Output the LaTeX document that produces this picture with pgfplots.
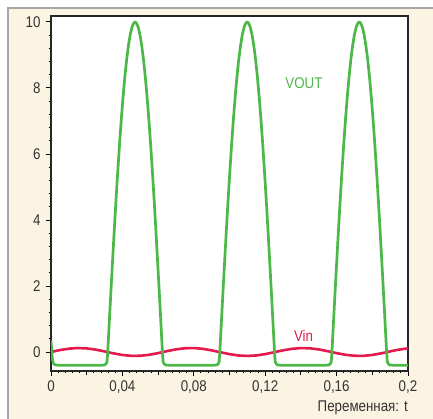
\documentclass[border=0pt]{standalone}
\usepackage{pgfplots}
\pgfplotsset{compat=1.18}
\usepackage{fontspec}
\setmainfont{Liberation Sans}[FakeStretch=0.86]
\definecolor{cream}{HTML}{FCF4E3}
\definecolor{vgreen}{HTML}{4CB848}
\definecolor{vred}{HTML}{E5194B}
\begin{document}
\begin{tikzpicture}[x=1pt,y=1pt]
\path[use as bounding box, fill=white] (0,0) rectangle (433,419);
\fill[cream] (8,0) rectangle (433,411);
\draw[black!35, line width=2.5pt] (8,0) -- (8,411) -- (433,411);
\begin{axis}[at={(51pt,48pt)}, anchor=south west, scale only axis,
  width=357pt, height=355pt,
  xmin=0, xmax=0.2, ymin=-0.576, ymax=10.18,
  axis background/.style={fill=white},
  axis line style={black!85, line width=1.6pt},
  tick pos=left, tick align=outside,
  xtick={0,0.04,0.08,0.12,0.16,0.2},
  xticklabels={0,{0,04},{0,08},{0,12},{0,16},{0,2}},
  ytick={0,2,4,6,8,10},
  minor x tick num=9, minor y tick num=4,
  major tick length=5pt, minor tick length=2.5pt,
  every tick/.style={black, line width=0.9pt},
  extra x ticks={0.02,0.06,0.1,0.14,0.18},
  extra x tick labels={},
  extra x tick style={major tick length=4pt, grid=none},
  ticklabel style={font=\fontsize{15.5}{17}\selectfont, text=black!80},
  yticklabel style={xshift=-2pt},
  xticklabel style={yshift=-1.5pt},
  /pgf/number format/assume math mode=true,
  clip=true,
]
\addplot[vred, line width=2.6pt, line join=round] coordinates {
(0,0) (0.005,0.058) (0.01,0.101) (0.015,0.12) (0.02,0.109) (0.025,0.072)
(0.03,0.017) (0.035,-0.042) (0.04,-0.091) (0.045,-0.117) (0.05,-0.115)
(0.055,-0.085) (0.06,-0.034) (0.065,0.026) (0.07,0.079) (0.075,0.113)
(0.08,0.119) (0.085,0.096) (0.09,0.049) (0.095,-0.009) (0.1,-0.065)
(0.105,-0.106) (0.11,-0.12) (0.115,-0.105) (0.12,-0.064) (0.125,-0.008)
(0.13,0.050) (0.135,0.096) (0.14,0.119) (0.145,0.112) (0.15,0.078)
(0.155,0.025) (0.16,-0.035) (0.165,-0.085) (0.17,-0.115) (0.175,-0.117)
(0.18,-0.090) (0.185,-0.041) (0.19,0.018) (0.195,0.072) (0.2,0.110)
};
\addplot[vgreen, line width=2.7pt, line join=round] coordinates {
(0,0.35) (0.0004,0.05) (0.0008,-0.22) (0.0013,-0.34) (0.002,-0.38) (0.003,-0.395) (0.0045,-0.40)
(0.0284,-0.40) (0.0299,-0.395) (0.0307,-0.37) (0.0314,-0.30) (0.0318,0.02) (0.0324,0.64)
(0.0334,1.67) (0.0344,2.67) (0.0354,3.65) (0.0364,4.59) (0.0374,5.47) (0.0384,6.30)
(0.0394,7.06) (0.0404,7.75) (0.0414,8.35) (0.0424,8.87) (0.0434,9.29) (0.0444,9.62)
(0.0454,9.85) (0.0464,9.97) (0.0471,10.0) (0.0478,9.97) (0.0488,9.85) (0.0498,9.62)
(0.0508,9.29) (0.0518,8.87) (0.0528,8.35) (0.0538,7.75) (0.0548,7.06) (0.0558,6.30)
(0.0568,5.47) (0.0578,4.59) (0.0588,3.65) (0.0598,2.67) (0.0608,1.67) (0.0618,0.64)
(0.0624,0.02) (0.0628,-0.30) (0.0635,-0.37) (0.0643,-0.395) (0.0658,-0.40)
(0.0912,-0.40) (0.0927,-0.395) (0.0935,-0.37) (0.0942,-0.30) (0.0946,0.02) (0.0952,0.64)
(0.0962,1.67) (0.0972,2.67) (0.0982,3.65) (0.0992,4.59) (0.1002,5.47) (0.1012,6.30)
(0.1022,7.06) (0.1032,7.75) (0.1042,8.35) (0.1052,8.87) (0.1062,9.29) (0.1072,9.62)
(0.1082,9.85) (0.1092,9.97) (0.1099,10.0) (0.1106,9.97) (0.1116,9.85) (0.1126,9.62)
(0.1136,9.29) (0.1146,8.87) (0.1156,8.35) (0.1166,7.75) (0.1176,7.06) (0.1186,6.30)
(0.1196,5.47) (0.1206,4.59) (0.1216,3.65) (0.1226,2.67) (0.1236,1.67) (0.1246,0.64)
(0.1252,0.02) (0.1256,-0.30) (0.1263,-0.37) (0.1271,-0.395) (0.1286,-0.40)
(0.1540,-0.40) (0.1555,-0.395) (0.1563,-0.37) (0.1570,-0.30) (0.1574,0.02) (0.1580,0.64)
(0.1590,1.67) (0.1600,2.67) (0.1610,3.65) (0.1620,4.59) (0.1630,5.47) (0.1640,6.30)
(0.1650,7.06) (0.1660,7.75) (0.1670,8.35) (0.1680,8.87) (0.1690,9.29) (0.1700,9.62)
(0.1710,9.85) (0.1720,9.97) (0.1727,10.0) (0.1734,9.97) (0.1744,9.85) (0.1754,9.62)
(0.1764,9.29) (0.1774,8.87) (0.1784,8.35) (0.1794,7.75) (0.1804,7.06) (0.1814,6.30)
(0.1824,5.47) (0.1834,4.59) (0.1844,3.65) (0.1854,2.67) (0.1864,1.67) (0.1874,0.64)
(0.1880,0.02) (0.1884,-0.30) (0.1891,-0.37) (0.1899,-0.395) (0.1914,-0.40) (0.2,-0.40)
};
\node[text=vgreen, font=\fontsize{15.5}{17}\selectfont] at (axis cs:0.1417,8.15) {VOUT};
\node[text=vred, font=\fontsize{15.5}{17}\selectfont] at (axis cs:0.1415,0.48) {Vin};
\end{axis}
\node[anchor=base east, font=\fontsize{15.5}{17}\selectfont, text=black!80, inner sep=0pt] at (408,7) {Переменная: t};
\end{tikzpicture}
\end{document}
